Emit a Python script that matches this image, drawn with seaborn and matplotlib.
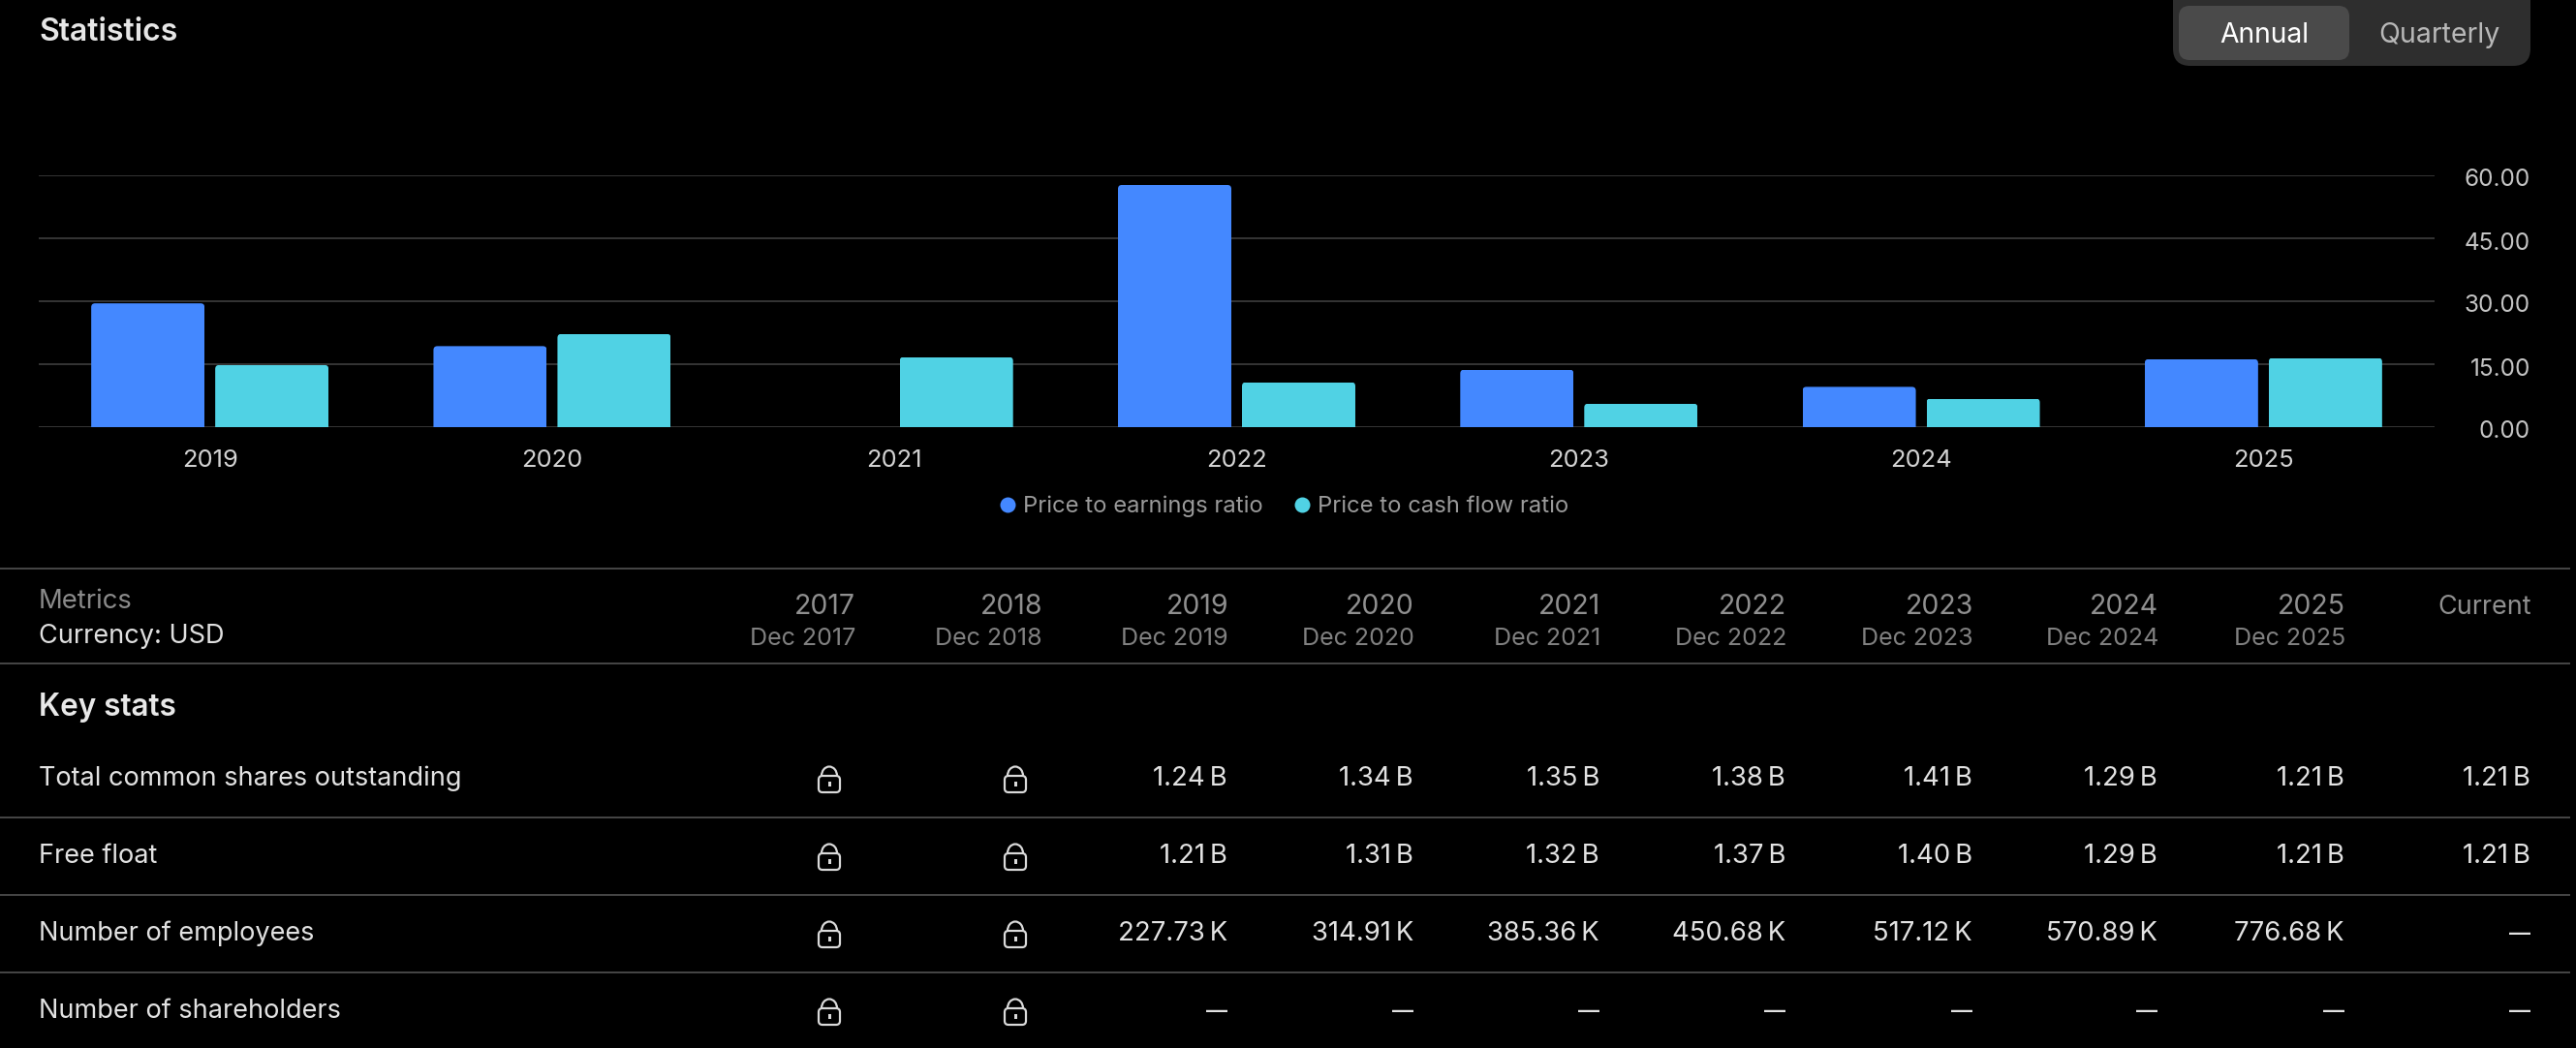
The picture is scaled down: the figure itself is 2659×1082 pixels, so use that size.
import numpy as np
import pandas as pd
import seaborn as sns
import matplotlib
matplotlib.use("Agg")
import matplotlib.pyplot as plt
from matplotlib.lines import Line2D
from matplotlib.patches import FancyBboxPatch, Arc, Rectangle
from matplotlib.transforms import IdentityTransform, ScaledTranslation

chart_years = ["2019", "2020", "2021", "2022", "2023", "2024", "2025"]
pe_ratio = [29.5, 19.3, np.nan, 57.7, 13.7, 9.6, 16.2]
pcf_ratio = [14.8, 22.2, 16.7, 10.7, 5.6, 6.8, 16.5]
series_names = ["Price to earnings ratio", "Price to cash flow ratio"]
y_ticks = [0, 15, 30, 45, 60]

table_years = ["2017", "2018", "2019", "2020", "2021", "2022", "2023", "2024", "2025", "Current"]
table_periods = ["Dec 2017", "Dec 2018", "Dec 2019", "Dec 2020", "Dec 2021", "Dec 2022",
                 "Dec 2023", "Dec 2024", "Dec 2025", ""]
row_names = ["Total common shares outstanding", "Free float", "Number of employees", "Number of shareholders"]
LOCK = "lock"
DASH = "—"
shares = [LOCK, LOCK, "1.24\u2009B", "1.34\u2009B", "1.35\u2009B", "1.38\u2009B", "1.41\u2009B", "1.29\u2009B", "1.21\u2009B", "1.21\u2009B"]
free_float = [LOCK, LOCK, "1.21\u2009B", "1.31\u2009B", "1.32\u2009B", "1.37\u2009B", "1.40\u2009B", "1.29\u2009B", "1.21\u2009B", "1.21\u2009B"]
employees = [LOCK, LOCK, "227.73\u2009K", "314.91\u2009K", "385.36\u2009K", "450.68\u2009K", "517.12\u2009K", "570.89\u2009K", "776.68\u2009K", DASH]
shareholders = [LOCK, LOCK, DASH, DASH, DASH, DASH, DASH, DASH, DASH, DASH]

W, H, DPI = 2659, 1082, 100
BLUE, CYAN = "#4488FF", "#50D2E4"
sns.set_theme(style="dark")
plt.rcParams["font.family"] = ["Inter", "DejaVu Sans"]
px = 72 / DPI  # points per pixel

fig = plt.figure(figsize=(W / DPI, H / DPI), dpi=DPI, facecolor="black")

# overlay in pixel coordinates for page furniture
ov = fig.add_axes([0, 0, 1, 1], zorder=0)
ov.set_xlim(0, W); ov.set_ylim(H, 0); ov.axis("off")

# chart
ax = fig.add_axes([40 / W, (H - 441) / H, (2513 - 40) / W, 260 / H], zorder=1)
ax.set_facecolor("none")
df = pd.DataFrame({"year": chart_years * 2,
                   "series": [series_names[0]] * 7 + [series_names[1]] * 7,
                   "value": pe_ratio + pcf_ratio})
sns.barplot(data=df, x="year", y="value", hue="series", hue_order=series_names,
            palette=[BLUE, CYAN], width=0.7246, gap=0.086, dodge=True,
            saturation=1, legend=False, ax=ax, zorder=3, linewidth=0)
ax.set_xlim(-0.5, 6.5); ax.set_ylim(0, 60)
ax.set_xlabel(""); ax.set_ylabel("")
ax.set_yticks(y_ticks, [f"{v:.2f}" for v in y_ticks])
ax.grid(axis="y", color="#333333", lw=2 * px, zorder=0); ax.grid(axis="x", visible=False)
ax.set_axisbelow(True)
for s in ax.spines.values():
    s.set_visible(False)
ax.yaxis.tick_right()
ax.tick_params(axis="y", length=0, pad=99 * px, labelsize=24.3 * px, labelcolor="#C4C4C4")
ax.tick_params(axis="x", length=0, pad=23 * px, labelsize=25.5 * px, labelcolor="#D2D2D2")
for t in ax.get_yticklabels():
    t.set_ha("right"); t.set_va("center")
    t.set_transform(t.get_transform() + ScaledTranslation(0, -5 / DPI, fig.dpi_scale_trans))
for t in ax.get_xticklabels() + ax.get_yticklabels():
    t.set_clip_on(False)

# rounded top corners of the bars
fig.canvas.draw()
for p in ax.patches:
    b = p.get_window_extent()
    if b.width > 0 and b.height > 0:
        clip = FancyBboxPatch((b.x0, b.y0 - 10), b.width, b.height + 10,
                              boxstyle="round,pad=0,rounding_size=4", transform=IdentityTransform())
        p.set_clip_path(clip)

# legend
handles = [Line2D([], [], ls="", marker="o", ms=16 * px, mfc=c, mec="none") for c in (BLUE, CYAN)]
leg = ax.legend(handles, series_names, loc="center", frameon=False, ncol=2,
                bbox_to_anchor=(1326, H - 523), bbox_transform=IdentityTransform(),
                fontsize=23.8 * px, labelcolor="#9A9A9A", handlelength=0.6, handletextpad=0.38,
                columnspacing=1.40, borderpad=0, borderaxespad=0)

def T(x, y, s, size, color, ha="left", weight="normal"):
    ov.text(x, y, s, fontsize=size * px, color=color, ha=ha, va="center", weight=weight)

# header
T(40, 34, "Statistics", 32, "#E6E6E6", weight="semibold")
ov.add_patch(FancyBboxPatch((2243, -20), 369, 88, boxstyle="round,pad=0,rounding_size=18", fc="#2E2E2E", ec="none"))
ov.add_patch(FancyBboxPatch((2249, 6), 176, 56, boxstyle="round,pad=0,rounding_size=11", fc="#4A4A4A", ec="none"))
T(2337, 36, "Annual", 28.3, "#FFFFFF", ha="center")
T(2518, 36, "Quarterly", 28.5, "#B8B8B8", ha="center")

# table
for y in (587, 685, 844, 924, 1004):
    ov.plot([0, 2653], [y, y], color="#444444", lw=2 * px, solid_capstyle="butt")
T(40, 621, "Metrics", 27.5, "#8A8A8A")
T(40, 657, "Currency: USD", 27.1, "#E0E0E0")
T(40, 730, "Key stats", 31.5, "#E8E8E8", weight="semibold")

col_right = [882, 1075, 1267, 1459, 1651, 1843, 2036, 2227, 2420, 2612]
for xr, yr, per in zip(col_right, table_years, table_periods):
    T(xr + 1, 626.5, yr, 28.5 if per else 27, "#8F8F8F", ha="right")
    if per:
        T(xr + 1, 660, per, 25, "#808080", ha="right")

def lock(cx, y0):
    c = "#DADADA"; lw = 2.2 * px
    ov.add_patch(FancyBboxPatch((cx - 11, y0 + 10), 22, 17, boxstyle="round,pad=0,rounding_size=4", fc="none", ec=c, lw=lw))
    ov.add_patch(Arc((cx, y0 + 10), 16, 19, theta1=180, theta2=360, ec=c, lw=lw))
    ov.add_patch(Rectangle((cx - 1.5, y0 + 16), 3, 5, fc=c, ec="none"))

rows = [shares, free_float, employees, shareholders]
for y, name, vals in zip((804, 884, 964, 1044), row_names, rows):
    T(40, y, name, 27.1, "#E2E2E2")
    for xr, v in zip(col_right, vals):
        if v == LOCK:
            lock(xr - 26 if xr < 900 else xr - 27, y - 13)
        elif v == DASH:
            T(xr, y, v, 22, "#E2E2E2", ha="right", weight="semibold")
        else:
            T(xr, y, v, 27.5, "#E2E2E2", ha="right")

fig.savefig("out.png", dpi=DPI, facecolor="black")
